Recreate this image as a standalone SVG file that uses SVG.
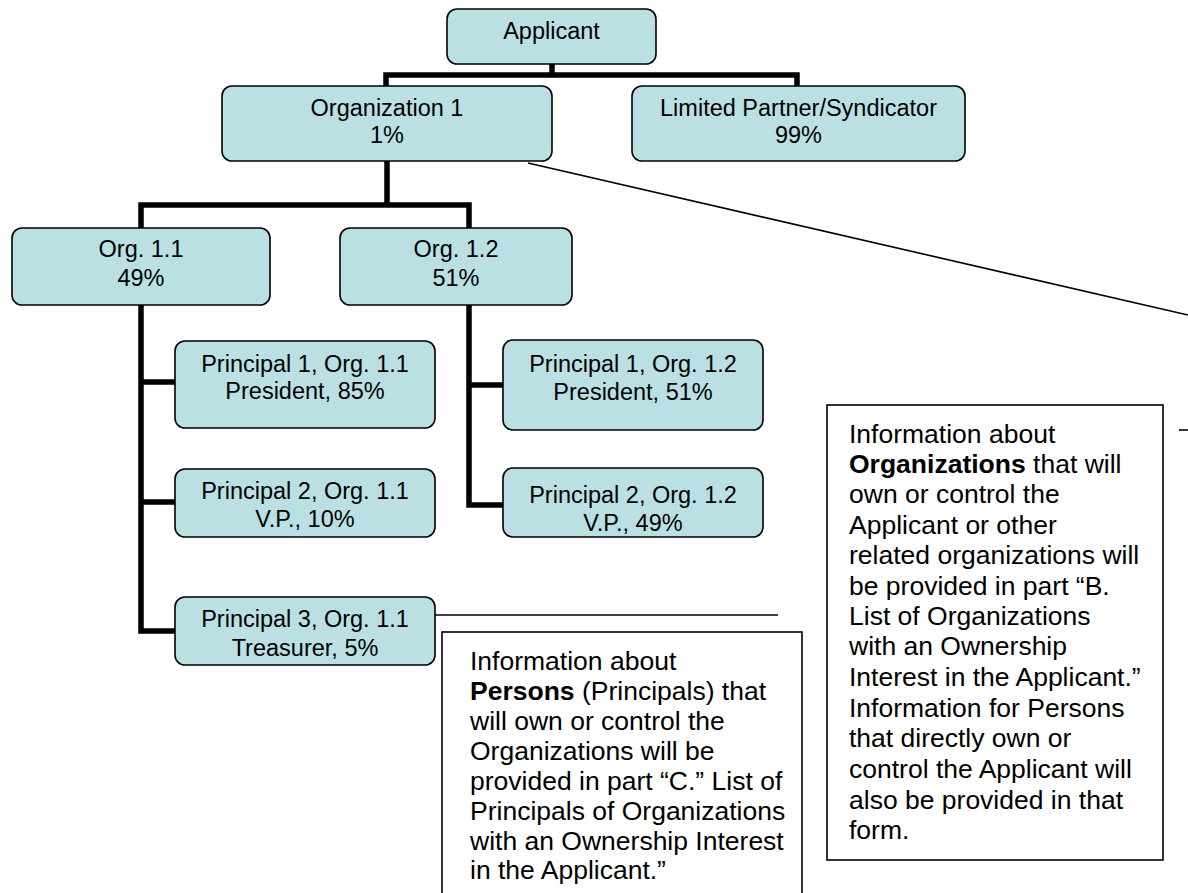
<svg xmlns="http://www.w3.org/2000/svg" width="1188" height="893" viewBox="0 0 1188 893">
<style>
.box{fill:#BBE0E3;stroke:#000;stroke-width:1.6}
.t{font-family:"Liberation Sans",Arial,sans-serif;font-size:23.5px;fill:#000;text-anchor:middle}
.c{font-family:"Liberation Sans",Arial,sans-serif;font-size:26.5px;fill:#000}
.conn{fill:none;stroke:#000;stroke-width:5.5;stroke-linecap:square;stroke-linejoin:miter}
.thin{fill:none;stroke:#000;stroke-width:1.6}
.note{fill:#fff;stroke:#000;stroke-width:1.6}
</style>
<rect width="1188" height="893" fill="#fff"/>
<g id="connectors">
<path class="conn" d="M552,64 V75 M386,86 V75 H797 V86"/>
<path class="conn" d="M387,161 V205 M141,228 V205 H469 V228"/>
<path class="conn" d="M141,305 V631 H175 M141,382 H175 M141,502 H175"/>
<path class="conn" d="M469,305 V505 H503 M469,385 H503"/>
<path class="thin" d="M528,163 L1188,315"/>
<path class="thin" d="M1179,430 H1188"/>
<path class="thin" d="M435,615 H778"/>
</g>
<g id="applicant"><rect class="box" x="447" y="9" width="209" height="55" rx="10"/><text class="t" x="551.5" y="39">Applicant</text></g>
<g id="org1"><rect class="box" x="222" y="86" width="330" height="75" rx="10"/><text class="t" x="387" y="116">Organization 1</text><text class="t" x="387" y="143">1%</text></g>
<g id="lp"><rect class="box" x="632" y="86" width="333" height="75" rx="10"/><text class="t" x="798.5" y="116">Limited Partner/Syndicator</text><text class="t" x="798.5" y="143">99%</text></g>
<g id="org11"><rect class="box" x="12" y="228" width="258" height="77" rx="10"/><text class="t" x="141" y="257">Org. 1.1</text><text class="t" x="141" y="286">49%</text></g>
<g id="org12"><rect class="box" x="340" y="228" width="232" height="77" rx="10"/><text class="t" x="456" y="257">Org. 1.2</text><text class="t" x="456" y="286">51%</text></g>
<g id="p1-11"><rect class="box" x="175" y="341" width="260" height="87" rx="10"/><text class="t" x="305" y="371.5">Principal 1, Org. 1.1</text><text class="t" x="305" y="399">President, 85%</text></g>
<g id="p2-11"><rect class="box" x="175" y="469" width="260" height="68" rx="10"/><text class="t" x="305" y="499">Principal 2, Org. 1.1</text><text class="t" x="305" y="527">V.P., 10%</text></g>
<g id="p3-11"><rect class="box" x="175" y="597" width="260" height="68" rx="10"/><text class="t" x="305" y="627">Principal 3, Org. 1.1</text><text class="t" x="305" y="656">Treasurer, 5%</text></g>
<g id="p1-12"><rect class="box" x="503" y="340" width="260" height="90" rx="10"/><text class="t" x="633" y="372">Principal 1, Org. 1.2</text><text class="t" x="633" y="400">President, 51%</text></g>
<g id="p2-12"><rect class="box" x="503" y="468" width="260" height="69" rx="10"/><text class="t" x="633" y="503">Principal 2, Org. 1.2</text><text class="t" x="633" y="531">V.P., 49%</text></g>
<g id="note-persons"><rect class="note" x="442" y="632" width="360" height="280"/>
<text class="c" x="470" y="670">Information about</text>
<text class="c" x="470" y="699.5"><tspan font-weight="bold">Persons</tspan> (Principals) that</text>
<text class="c" x="470" y="729.5">will own or control the</text>
<text class="c" x="470" y="759.5">Organizations will be</text>
<text class="c" x="470" y="789.5">provided in part “C.” List of</text>
<text class="c" x="470" y="819.5">Principals of Organizations</text>
<text class="c" x="470" y="849.5">with an Ownership Interest</text>
<text class="c" x="470" y="878.5">in the Applicant.”</text>
</g>
<g id="note-orgs"><rect class="note" x="827" y="405" width="336" height="455"/>
<text class="c" x="849" y="442.5">Information about</text>
<text class="c" x="849" y="473"><tspan font-weight="bold">Organizations</tspan> that will</text>
<text class="c" x="849" y="503">own or control the</text>
<text class="c" x="849" y="533.5">Applicant or other</text>
<text class="c" x="849" y="564">related organizations will</text>
<text class="c" x="849" y="594.5">be provided in part “B.</text>
<text class="c" x="849" y="625">List of Organizations</text>
<text class="c" x="849" y="655">with an Ownership</text>
<text class="c" x="849" y="686">Interest in the Applicant.”</text>
<text class="c" x="849" y="716.5">Information for Persons</text>
<text class="c" x="849" y="747">that directly own or</text>
<text class="c" x="849" y="778">control the Applicant will</text>
<text class="c" x="849" y="808.5">also be provided in that</text>
<text class="c" x="849" y="839">form.</text>
</g>
</svg>
